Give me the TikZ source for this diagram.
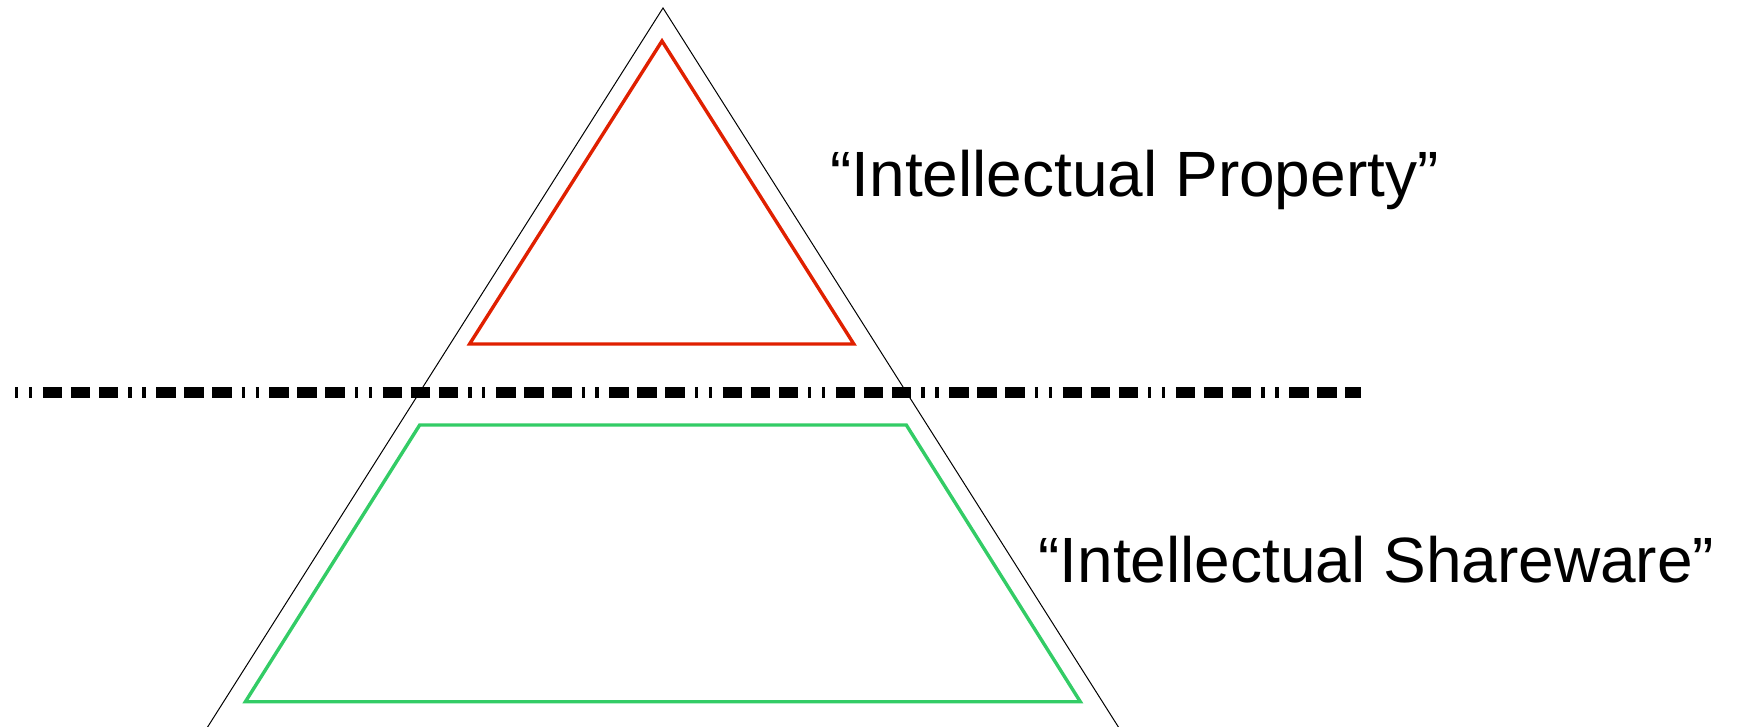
\documentclass[tikz,border=0pt]{standalone}
\usepackage{fontspec}
\setmainfont{Liberation Sans}
\definecolor{ipred}{RGB}{224,32,0}
\definecolor{isgreen}{RGB}{51,204,102}
\begin{document}
\begin{tikzpicture}[x=0.5pt,y=-0.5pt,
  outer/.style={draw=black,line width=0.5pt},
  redtri/.style={draw=ipred,line width=1.7pt,line join=miter},
  greentrap/.style={draw=isgreen,line width=1.7pt,line join=miter},
  divider/.style={draw=black,line width=5.75pt,line cap=butt,
    dash pattern=on 1.65pt off 5.3pt on 1.65pt off 5.3pt on 9.75pt off 4.25pt on 9.75pt off 4.25pt on 9.75pt off 5pt},
  label/.style={anchor=base west,inner sep=0pt,font=\fontsize{32}{38}\selectfont}]
\useasboundingbox (0,0) rectangle (1741,727);
\begin{scope}
\clip (0,0) rectangle (1741,727);
\draw[outer] (207.6-20*0.633,727+20) -- (663,8) -- (1118.4+20*0.633,727+20);
\end{scope}
\draw[redtri] (662,41) -- (853.8,344) -- (469.6,344) -- cycle;
\draw[greentrap] (419.7,425) -- (906.3,425) -- (1080.3,701.7) -- (245.4,701.7) -- cycle;
\coordinate (dl) at (15,392.5);
\coordinate (dr) at (1361,392.5);
\draw[divider] (dl) -- (dr);
\node[label] (ip) at (830,197) {“Intellectual Property”};
\node[label] (is) at (1038,582) {“Intellectual Shareware”};
\end{tikzpicture}
\end{document}
